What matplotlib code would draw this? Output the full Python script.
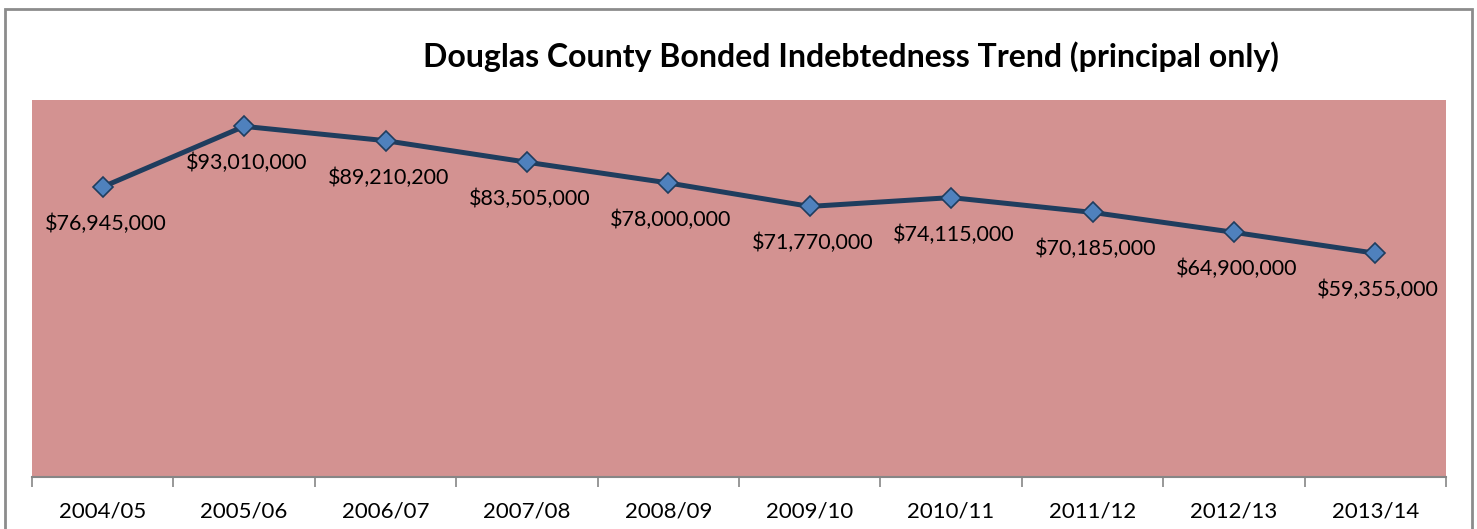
import matplotlib.pyplot as plt
from matplotlib.patches import Rectangle

years = ["2004/05", "2005/06", "2006/07", "2007/08", "2008/09",
         "2009/10", "2010/11", "2011/12", "2012/13", "2013/14"]
principal = [76945000, 93010000, 89210200, 83505000, 78000000,
             71770000, 74115000, 70185000, 64900000, 59355000]

plt.rcParams['font.family'] = ['Lato', 'DejaVu Sans']

fig = plt.figure(figsize=(14.77, 5.29), dpi=100)
ax = fig.add_axes([32 / 1477, 1 - 477 / 529, (1446 - 32) / 1477, (477 - 100) / 529])
ax.set_facecolor('#d39291')

x = range(len(years))
ax.plot(x, principal, color='#1f3d5e', lw=3.6, marker='D', ms=10,
        mfc='#4f81bd', mec='#1f3d5e', mew=1.2, zorder=3)

for i, v in enumerate(principal):
    ax.annotate("${:,}".format(v), (i, v), xytext=(2, -26.5),
                textcoords='offset points', ha='center', va='center',
                fontsize=15.5, color='black')

ax.set_xlim(-0.5, len(years) - 0.5)
ax.set_ylim(0, 100000000)
ax.set_yticks([])
ax.set_xticks([i - 0.5 for i in range(len(years) + 1)], minor=False)
ax.set_xticklabels([])
ax.set_xticks(list(x), minor=True)
ax.set_xticklabels(years, minor=True, fontsize=16)
ax.tick_params(axis='x', which='major', length=7, color='#868686', width=1.2)
ax.tick_params(axis='x', which='minor', length=0, pad=18)
for s in ['left', 'right', 'top']:
    ax.spines[s].set_visible(False)
ax.spines['bottom'].set_color('#868686')
ax.spines['bottom'].set_linewidth(1.5)

fig.text(851 / 1477, 1 - 57 / 529,
         "Douglas County Bonded Indebtedness Trend (principal only)",
         ha='center', va='center', fontsize=23, fontweight='bold')

fig.patches.append(Rectangle((5 / 1477, -0.05), (1472 - 5) / 1477, 1.05 - 9 / 529,
                             transform=fig.transFigure, fill=False,
                             edgecolor='#8c8c8c', lw=2))

fig.savefig('out.png', dpi=100)
